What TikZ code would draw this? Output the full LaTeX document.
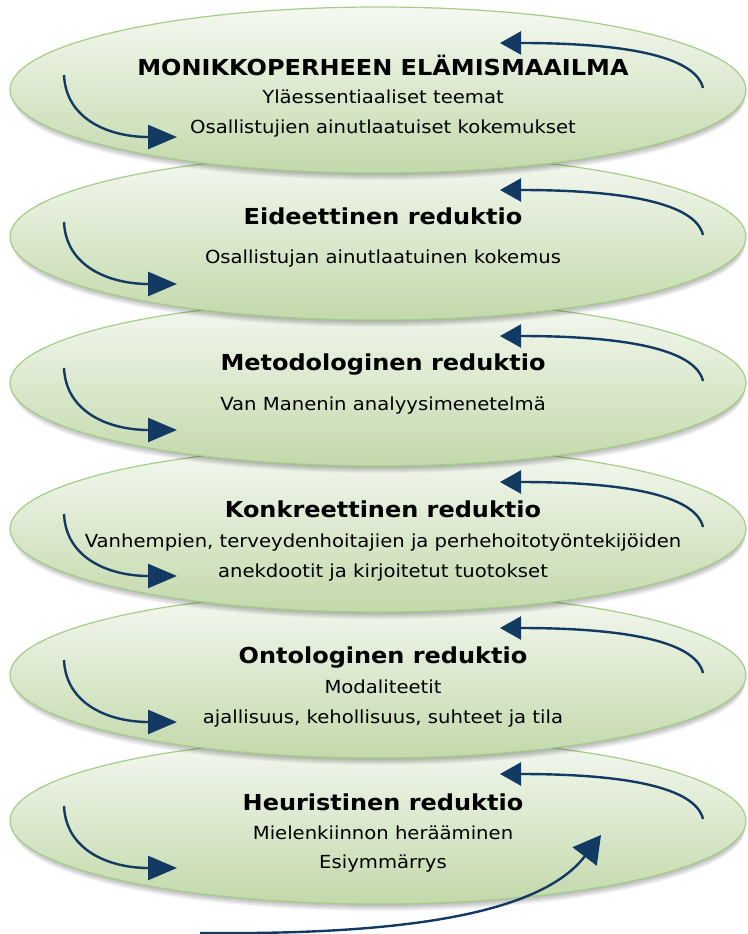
\documentclass[tikz,border=0pt]{standalone}
\usepackage{fontspec}
\setmainfont{DejaVu Sans}[FakeStretch=1.09]
\usetikzlibrary{shapes.geometric,arrows.meta}
\definecolor{ovalline}{HTML}{A4CD87}
\definecolor{ovaltop}{HTML}{F5F8F1}
\definecolor{ovalbot}{HTML}{C2D9AB}
\definecolor{arrowblue}{HTML}{123A62}
\tikzset{
  oval/.style={ellipse, minimum width=736pt, minimum height=166pt, inner sep=0pt,
    draw=ovalline, line width=1.2pt, top color=ovaltop, bottom color=ovalbot},
  ovalshadow/.style={fill=black, opacity=0.045},
  ttl/.style={font=\fontsize{22}{26}\selectfont\bfseries, inner sep=0pt, anchor=base},
  txt/.style={font=\fontsize{18}{22}\selectfont, inner sep=0pt, anchor=base},
  curl/.style={draw=arrowblue, line width=2.4pt, -{Triangle[length=29pt,width=24pt]}},
  curr/.style={draw=arrowblue, line width=2.4pt, -{Triangle[length=21pt,width=23pt]}},
  bigarrow/.style={draw=arrowblue, line width=2.4pt, -{Triangle[length=27pt,width=30pt]}}
}
\begin{document}
\begin{tikzpicture}[x=1pt,y=-1pt]
\useasboundingbox (0,0) rectangle (747,934);
\foreach \i/\c in {6/821,5/675,4/529,3/383,2/237,1/90}{
  \foreach \k in {1,...,8}{
    \fill[ovalshadow] (379,\c+\k) ellipse [x radius=366, y radius=82];
  }
  \node[oval] (e\i) at (378,\c) {};
  \coordinate (ls\i) at (64,\c-15);
  \coordinate (le\i) at (177,\c+47);
  \coordinate (rs\i) at (703,\c-2);
  \coordinate (re\i) at (500,\c-47);
  \draw[curl] (ls\i) .. controls +(2,45) and +(-67,0) .. (le\i);
  \draw[curr] (rs\i) .. controls +(-8,-33) and +(120,0) .. (re\i);
}
% texts
\node[ttl] (t1) at (383,75) {MONIKKOPERHEEN ELÄMISMAAILMA};
\node[txt] (a1) at (383,103.5) {Yläessentiaaliset teemat};
\node[txt] (b1) at (383,133.5) {Osallistujien ainutlaatuiset kokemukset};
\node[ttl] (t2) at (383,224.5) {Eideettinen reduktio};
\node[txt] (a2) at (383,263.5) {Osallistujan ainutlaatuinen kokemus};
\node[ttl] (t3) at (383,370.5) {Metodologinen reduktio};
\node[txt] (a3) at (383,410.5) {Van Manenin analyysimenetelmä};
\node[ttl] (t4) at (383,517) {Konkreettinen reduktio};
\node[txt] (a4) at (383,547.5) {Vanhempien, terveydenhoitajien ja perhehoitotyöntekijöiden};
\node[txt] (b4) at (383,577.5) {anekdootit ja kirjoitetut tuotokset};
\node[ttl] (t5) at (383,663.5) {Ontologinen reduktio};
\node[txt] (a5) at (383,693.5) {Modaliteetit};
\node[txt] (b5) at (383,723.5) {ajallisuus, kehollisuus, suhteet ja tila};
\node[ttl] (t6) at (383,810) {Heuristinen reduktio};
\node[txt] (a6) at (383,839.5) {Mielenkiinnon herääminen};
\node[txt] (b6) at (383,868.5) {Esiymmärrys};
% bottom arrow
\coordinate (bs) at (200,933);
\coordinate (be) at (601,835);
\draw[bigarrow] (bs) .. controls +(200,2) and +(-61,80) .. (be);
\end{tikzpicture}
\end{document}
